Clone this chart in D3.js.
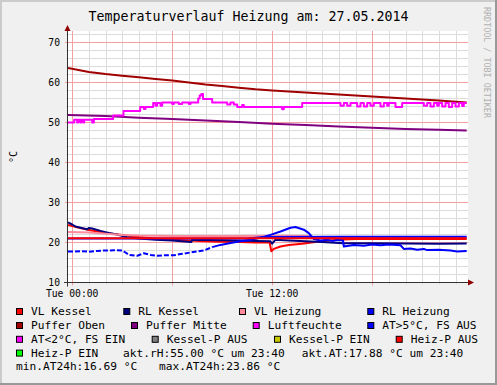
<!DOCTYPE html>
<html>
<head>
<meta charset="utf-8">
<script src="https://cdn.jsdelivr.net/npm/d3@7"></script>
<style>
body { margin: 0; background: #f0f0f0; }
svg { display: block; }
</style>
</head>
<body>
<script>
// Werte: [Stunde, °C]
const vlKessel = [[-0.25,24.4],[0.3,23.8],[1,23.1],[2,22.4],[3,21.9],[4,21.4],[5,21.0],[6,20.7],[7,20.5],[8,20.3],[9,20.2],[10,20.1],[11,20.0],[11.85,20.0],[11.95,17.8],[12.1,18.4],[12.5,19.0],[13,19.4],[13.8,19.7],[14.9,20.3],[16,20.7],[17,20.85],[20,20.9],[23.67,20.9]];
const rlKessel = [[-0.25,25.0],[0,24.5],[0.2,24.0],[0.5,23.7],[0.9,23.3],[1.0,23.65],[1.2,23.5],[1.7,22.9],[2.2,22.4],[2.7,22.0],[3.3,21.3],[4,21.0],[5,20.7],[6,20.5],[7.15,20.1],[7.2,20.7],[9,20.55],[11,20.4],[11.9,20.3],[12.0,19.7],[12.2,20.7],[13,20.5],[14,20.3],[15,20.1],[16,19.9],[16.3,19.8],[18,19.8],[20,19.75],[22,19.7],[23.67,19.75]];
const vlHeizung = [[-0.25,22.6],[1,22.5],[2,22.2],[3,21.9],[4,21.75],[6,21.65],[8,21.6],[10,21.6],[11.9,21.7],[13,21.7],[14.3,21.65],[14.5,21.2],[23.67,21.2]];
const rlHeizung = [[-0.25,21.0],[10.5,21.0],[11.5,21.4],[16,21.45],[23.67,21.45]];
const pufferOben = [[-0.25,63.6],[1,62.6],[2,62.1],[3,61.7],[4,61.3],[5,60.9],[6,60.5],[7,60.0],[8,59.5],[9,59.1],[10,58.7],[11,58.3],[12,58.0],[14,57.5],[16,57.0],[18,56.5],[20,56.0],[22,55.5],[23.67,55.0]];
const pufferMitte = [[-0.25,51.9],[2,51.6],[4,51.2],[6,50.9],[8,50.5],[10,50.1],[12,49.7],[14,49.4],[16,49.0],[18,48.7],[20,48.4],[22,48.2],[23.67,48.0]];
const luftfeuchte = [[-0.25,50.0],[0.12,50.7],[0.3,50.0],[0.36,50.7],[0.48,50.0],[0.54,50.7],[0.66,50.0],[0.72,50.7],[1.2,50.0],[1.3,50.85],[2.46,51.75],[3.08,52.9],[4.08,53.85],[4.3,53.4],[4.4,53.85],[4.86,54.85],[5.0,54.2],[5.1,54.85],[5.3,54.2],[5.4,55.0],[6.0,54.6],[6.1,55.0],[6.4,54.6],[6.6,55.0],[7.0,54.6],[7.1,55.0],[7.56,56.0],[7.65,56.75],[7.75,57.1],[7.85,55.85],[8.4,55.0],[9.3,54.5],[9.5,55.0],[9.7,54.5],[9.9,53.85],[10.2,54.4],[10.3,53.85],[12.6,53.3],[12.7,53.85],[13.8,54.85],[16.1,54.2],[16.3,54.85],[16.5,54.2],[16.7,54.85],[17.1,54.0],[17.3,54.85],[17.5,54.0],[17.7,54.85],[17.9,54.2],[18.1,54.85],[18.5,54.0],[18.7,54.85],[18.9,54.2],[19.0,54.85],[19.4,53.85],[19.8,54.85],[21.1,54.2],[21.3,54.85],[21.5,54.0],[21.7,54.85],[21.9,54.2],[22.0,54.85],[22.2,54.0],[22.4,54.85],[22.6,53.85],[22.8,54.85],[23.0,54.0],[23.2,54.85],[23.4,54.1],[23.5,54.85],[23.67,54.85]];
const aussen = [[-0.25,17.75],[0.5,17.8],[1,17.7],[1.5,17.9],[2,18.0],[2.5,18.05],[3.0,18.0],[3.2,17.5],[3.4,16.9],[3.9,16.7],[4.3,17.3],[4.7,16.9],[5.1,16.7],[5.5,16.8],[6.1,16.8],[6.5,17.1],[7.1,17.5],[7.5,17.75],[7.9,18.0],[8.4,18.85],[8.9,19.4],[9.5,19.85],[10.1,20.3],[10.7,20.7],[11.3,21.2],[11.9,21.9],[12.5,22.75],[13.1,23.7],[13.4,23.86],[13.9,23.2],[14.2,22.35],[14.5,20.85],[14.9,20.5],[15.3,20.7],[15.6,20.4],[15.9,20.6],[16.25,20.5],[16.3,19.0],[16.9,19.4],[17.5,19.2],[18,19.5],[18.5,19.3],[19,19.5],[19.7,19.3],[19.9,18.4],[20.3,18.5],[20.7,18.2],[21.1,18.4],[21.3,18.1],[22,18.2],[22.7,18.0],[23.1,17.75],[23.67,17.85]];
const heizPAus = [[-0.25,21.05],[23.67,21.05]];

const yTicks = [10, 20, 30, 40, 50, 60, 70];
const xTicks = [0, 12];
const xTickLabels = ["Tue 00:00", "Tue 12:00"];

const legendLabels = ["VL Kessel", "RL Kessel", "VL Heizung", "RL Heizung",
  "Puffer Oben", "Puffer Mitte", "Luftfeuchte", "AT>5°C, FS AUS",
  "AT<2°C, FS EIN", "Kessel-P AUS", "Kessel-P EIN", "Heiz-P AUS", "Heiz-P EIN"];
const legendColors = ["#ff0000", "#000080", "#ff8a9c", "#0000ff",
  "#a00000", "#800080", "#ff00ff", "#0000ff",
  "#ff00ff", "#808080", "#c8c800", "#ff0000", "#00ff00"];
const infoTexts = ["akt.rH:55.00 °C um 23:40", "akt.AT:17.88 °C um 23:40",
  "min.AT24h:16.69 °C", "max.AT24h:23.86 °C"];

const W = 497, H = 385;
const mono = "'DejaVu Sans Mono', monospace";

const svg = d3.select("body").append("svg")
  .attr("width", W)
  .attr("height", H);

// Hintergrund und Rahmen
svg.append("rect").attr("width", W).attr("height", H).attr("fill", "#f0f0f0");
svg.append("rect").attr("x", 0).attr("y", 0).attr("width", W).attr("height", 2).attr("fill", "#cbcbcb");
svg.append("rect").attr("x", 0).attr("y", 0).attr("width", 2).attr("height", H).attr("fill", "#cbcbcb");
svg.append("rect").attr("x", W - 2).attr("y", 0).attr("width", 2).attr("height", H).attr("fill", "#999999");
svg.append("rect").attr("x", 0).attr("y", H - 2).attr("width", W).attr("height", 2).attr("fill", "#999999");

const x = d3.scaleLinear().domain([-0.25, 23.75]).range([68, 468]);
const y = d3.scaleLinear().domain([10, 70]).range([282.5, 42.5]);
const plotTop = 31;
const crisp = v => Math.round(v) + 0.5;

svg.append("rect")
  .attr("x", x(-0.25)).attr("y", plotTop)
  .attr("width", x(23.75) - x(-0.25)).attr("height", y(10) - plotTop)
  .attr("fill", "#ffffff");

// Gitter
const grid = svg.append("g");
const hours = d3.range(0, 24, 1);
const temps = d3.range(10, 73, 2);

grid.selectAll(".vmin").data(hours.filter(h => h % 6 !== 0)).enter().append("line")
  .attr("x1", d => crisp(x(d))).attr("x2", d => crisp(x(d)))
  .attr("y1", plotTop).attr("y2", y(10) + 2)
  .attr("stroke", "#dcdcdc").attr("stroke-width", 1);
grid.selectAll(".hmin").data(temps.filter(t => t % 10 !== 0)).enter().append("line")
  .attr("x1", x(-0.25) - 2).attr("x2", x(23.75))
  .attr("y1", d => y(d)).attr("y2", d => y(d))
  .attr("stroke", "#dcdcdc").attr("stroke-width", 1);
grid.selectAll(".vmaj").data(hours.filter(h => h % 6 === 0)).enter().append("line")
  .attr("x1", d => crisp(x(d))).attr("x2", d => crisp(x(d)))
  .attr("y1", plotTop).attr("y2", y(10) + 3)
  .attr("stroke", "#f4a0a0").attr("stroke-width", 1);
grid.selectAll(".hmaj").data(yTicks).enter().append("line")
  .attr("x1", x(-0.25) - 3).attr("x2", x(23.75))
  .attr("y1", d => y(d)).attr("y2", d => y(d))
  .attr("stroke", "#f4a0a0").attr("stroke-width", 1);

// Linien
svg.append("clipPath").attr("id", "plot").append("rect")
  .attr("x", x(-0.25)).attr("y", plotTop)
  .attr("width", x(23.75) - x(-0.25)).attr("height", y(10) - plotTop);

const line = d3.line().x(d => x(d[0])).y(d => y(d[1]));
const stepLine = d3.line().x(d => x(d[0])).y(d => y(d[1])).curve(d3.curveStepAfter);

const lines = svg.append("g").attr("clip-path", "url(#plot)");
function drawLine(data, color, gen, dash) {
  lines.append("path")
    .datum(data)
    .attr("d", gen || line)
    .attr("fill", "none")
    .attr("stroke", color)
    .attr("stroke-width", 2)
    .attr("stroke-linejoin", "round")
    .attr("stroke-dasharray", dash || null);
}

drawLine(vlKessel, legendColors[0]);
drawLine(rlKessel, legendColors[1]);
drawLine(vlHeizung, legendColors[2]);
drawLine(rlHeizung, legendColors[3]);
drawLine(pufferOben, legendColors[4]);
drawLine(pufferMitte, legendColors[5]);
drawLine(luftfeuchte, legendColors[6], stepLine);
// Aussentemperatur: erster Teil lueckenhaft
drawLine(aussen.filter(d => d[0] <= 8.4), legendColors[7], line, "5,2");
drawLine(aussen.filter(d => d[0] >= 8.4), legendColors[7]);
drawLine(heizPAus, legendColors[11]);

// Achsen
svg.append("line")
  .attr("x1", x(-0.25) - 0.5).attr("x2", x(-0.25) - 0.5)
  .attr("y1", 28).attr("y2", y(10) + 4)
  .attr("stroke", "#333").attr("stroke-width", 1);
svg.append("line")
  .attr("x1", x(-0.25) - 4).attr("x2", 470)
  .attr("y1", y(10)).attr("y2", y(10))
  .attr("stroke", "#333").attr("stroke-width", 1);
svg.append("path")
  .attr("d", `M${x(-0.25) - 0.5},25 L${x(-0.25) - 3.5},31 L${x(-0.25) + 2.5},31 Z`)
  .attr("fill", "#900000");
svg.append("path")
  .attr("d", `M474,${y(10)} L468,${y(10) - 3} L468,${y(10) + 3} Z`)
  .attr("fill", "#900000");

// Beschriftung
svg.append("text")
  .attr("x", 248.5).attr("y", 21)
  .attr("text-anchor", "middle")
  .style("font-family", mono).style("font-size", "13.3px")
  .text("Temperaturverlauf Heizung am: 27.05.2014");

svg.selectAll(".ylab").data(yTicks).enter().append("text")
  .attr("x", 60).attr("y", d => y(d)).attr("dy", "0.36em")
  .attr("text-anchor", "end")
  .style("font-family", mono).style("font-size", "9.7px")
  .text(d => d);

svg.selectAll(".xlab").data(xTicks).enter().append("text")
  .attr("x", d => x(d)).attr("y", 297)
  .attr("text-anchor", "middle")
  .style("font-family", mono).style("font-size", "9.7px")
  .text((d, i) => xTickLabels[i]);

svg.append("text")
  .attr("transform", "translate(17,157) rotate(-90)")
  .attr("text-anchor", "middle")
  .style("font-family", mono).style("font-size", "10px")
  .text("°C");

svg.append("text")
  .attr("transform", "translate(484,7) rotate(90)")
  .attr("fill", "#b0b0b0")
  .style("font-family", mono).style("font-size", "8.4px")
  .text("RRDTOOL / TOBI OETIKER");

// Legende
const rowY = [315, 329, 342.8, 356.6, 370.4];
const legendPos = [
  [31, 0], [138.3, 0], [254, 0], [382.3, 0],
  [31, 1], [146, 1], [267.7, 1], [382.3, 1],
  [31, 2], [166.7, 2], [289, 2], [410.7, 2],
  [31, 3]
];
const infoPos = [[123, 3], [301.7, 3], [16, 4], [159, 4]];

const legend = svg.append("g");
legendLabels.forEach((label, i) => {
  const [tx, row] = legendPos[i];
  legend.append("rect")
    .attr("x", tx - 14.5).attr("y", rowY[row] - 6.5)
    .attr("width", 6).attr("height", 6)
    .attr("fill", legendColors[i])
    .attr("stroke", "#000").attr("stroke-width", 1);
  legend.append("text")
    .attr("x", tx).attr("y", rowY[row])
    .style("font-family", mono).style("font-size", "11.2px")
    .text(label);
});
infoTexts.forEach((t, i) => {
  const [tx, row] = infoPos[i];
  legend.append("text")
    .attr("x", tx).attr("y", rowY[row])
    .style("font-family", mono).style("font-size", "11.2px")
    .text(t);
});
</script>
</body>
</html>
